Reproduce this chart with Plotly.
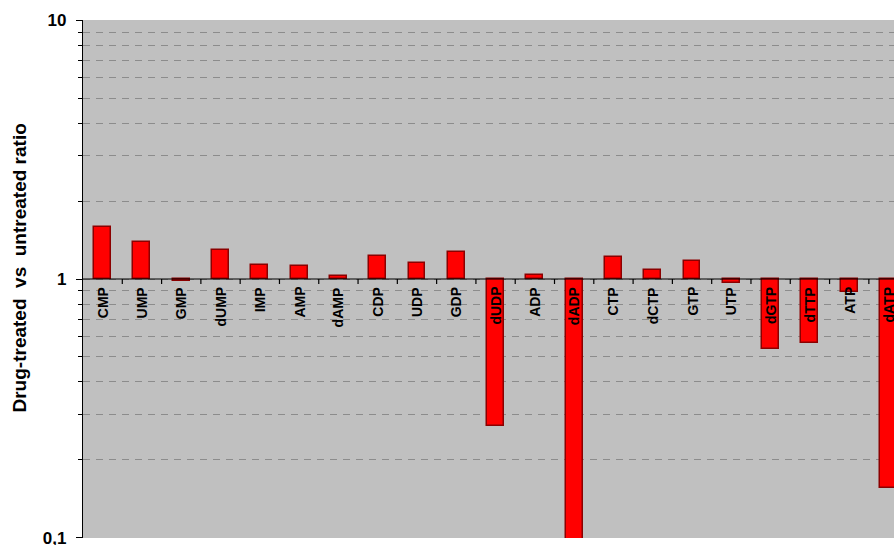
import plotly.graph_objects as go

# Nucleotide pool ratios (drug-treated / untreated)
nucleotides = ["CMP", "UMP", "GMP", "dUMP", "IMP", "AMP", "dAMP", "CDP", "UDP", "GDP",
               "dUDP", "ADP", "dADP", "CTP", "dCTP", "GTP", "UTP", "dGTP", "dTTP", "ATP", "dATP"]
ratios = [1.59, 1.39, 0.98, 1.29, 1.13, 1.12, 1.03, 1.23, 1.15, 1.27,
          0.271, 1.036, 0.095, 1.22, 1.08, 1.17, 0.962, 0.535, 0.568, 0.893, 0.156]
y_tick_values = [0.1, 1, 10]
y_tick_labels = ["0,1", "1", "10"]
minor_values = [0.2, 0.3, 0.4, 0.5, 0.6, 0.7, 0.8, 0.9, 2, 3, 4, 5, 6, 7, 8, 9]

FONT = "Liberation Sans, Arial, sans-serif"
W, H = 894, 545
ML, MR, MT, MB = 83, 0, 20, 7
plot_h = H - MT - MB

idx = list(range(len(nucleotides)))

fig = go.Figure()
# bars grow from the ratio of 1 (base) up or down
fig.add_trace(go.Bar(
    x=idx,
    y=[r - 1 for r in ratios],
    base=1,
    width=0.43,
    marker=dict(color="#FF0000", line=dict(color="#8B0000", width=1.5)),
    hoverinfo="skip",
))

shapes = []
# baseline at ratio = 1 (middle of the log range 0.1..10)
shapes.append(dict(type="line", xref="paper", yref="y domain", x0=0, x1=1, y0=0.5, y1=0.5,
                   line=dict(color="black", width=1.2), layer="above"))
# category separator ticks on the baseline
for i in idx:
    shapes.append(dict(type="line", xref="x", yref="y domain", x0=i + 0.5, x1=i + 0.5,
                       y0=0.5, y1=0.5 - 5 / plot_h, line=dict(color="black", width=1.2),
                       layer="above"))

annotations = []
for i, name in zip(idx, nucleotides):
    annotations.append(dict(x=i, y=0, xref="x", yref="y", text=name, showarrow=False,
                            textangle=-90, xanchor="center", yanchor="top", yshift=-6,
                            font=dict(family=FONT, size=14, color="black", weight="bold")))
annotations.append(dict(x=(18.5 - ML) / (W - ML - MR), y=(H - MB - 268) / plot_h,
                        xref="paper", yref="paper",
                        text="Drug-treated  vs  untreated ratio", showarrow=False,
                        textangle=-90, xanchor="center", yanchor="middle",
                        font=dict(family=FONT, size=19, color="black", weight="bold")))

fig.update_layout(
    width=W, height=H,
    margin=dict(l=ML, r=MR, t=MT, b=MB, pad=0, autoexpand=False),
    paper_bgcolor="white",
    plot_bgcolor="#C0C0C0",
    showlegend=False,
    shapes=shapes,
    annotations=annotations,
    bargap=0,
)
fig.update_xaxes(range=[-0.5, 20.14], showticklabels=False, showgrid=False,
                 zeroline=False, ticks="", showline=False, fixedrange=True, automargin=False)
fig.update_yaxes(type="log", range=[-1.001, 1.001], tickvals=y_tick_values, ticktext=y_tick_labels,
                 automargin=False,
                 ticks="outside", ticklen=6, tickcolor="black", tickwidth=1,
                 ticklabelstandoff=6, ticklabeloverflow="allow",
                 showline=True, linecolor="black", linewidth=1.2,
                 showgrid=True, gridcolor="#8C8C8C", griddash="7px,6px", gridwidth=1,
                 zeroline=False,
                 tickfont=dict(family=FONT, size=17, color="black", weight="bold"),
                 minor=dict(tickvals=minor_values, ticks="outside", ticklen=4,
                            tickcolor="black", showgrid=True, gridcolor="#8C8C8C",
                            griddash="7px,6px", gridwidth=1))

fig.write_html("out.html")
